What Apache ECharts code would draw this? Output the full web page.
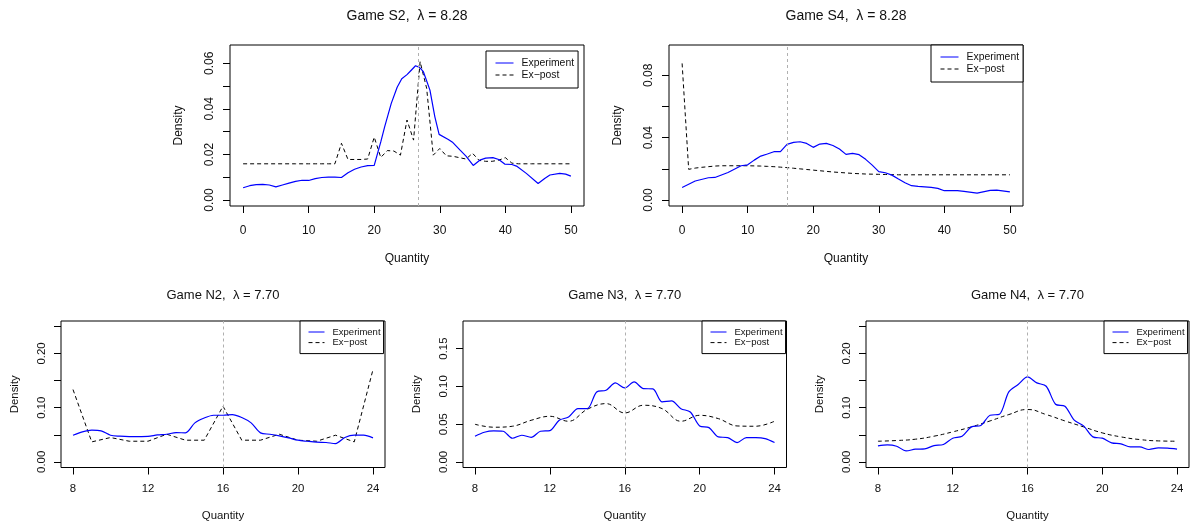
<!DOCTYPE html>
<html>
<head>
<meta charset="utf-8">
<script src="https://cdn.jsdelivr.net/npm/echarts@6/dist/echarts.min.js"></script>
<style>
  html, body { margin: 0; padding: 0; background: #fff; }
  #main { width: 1192px; height: 526px; }
</style>
</head>
<body>
<div id="main"></div>
<script>
// Game S2
var s2ExpQ = [0, 1, 2, 3, 4, 5, 6, 7, 8, 9, 10, 11, 12, 13, 14, 15, 16, 17, 18, 19, 20, 21, 21.6, 22.6, 23.5, 24.2, 25, 25.5, 26.3, 26.9, 27.5, 28.5, 29.25, 29.9, 31.3, 32, 33.1, 34, 35.1, 36.1, 37, 38.1, 39, 39.9, 41, 41.7, 43.2, 45, 46, 46.8, 48.3, 49.2, 50];
var s2ExpD = [0.0054, 0.0063, 0.0068, 0.0069, 0.0066, 0.0058, 0.0066, 0.0074, 0.0082, 0.0087, 0.0086, 0.0094, 0.0099, 0.0101, 0.0101, 0.0099, 0.0120, 0.0135, 0.0145, 0.0151, 0.0152, 0.0255, 0.0322, 0.0424, 0.0495, 0.0532, 0.0550, 0.0565, 0.0589, 0.0582, 0.0563, 0.0482, 0.0365, 0.0288, 0.0266, 0.0252, 0.0219, 0.0193, 0.0152, 0.0175, 0.0184, 0.0186, 0.0178, 0.0158, 0.0156, 0.0149, 0.0117, 0.0073, 0.0095, 0.0110, 0.0117, 0.0114, 0.0105];
var s2PostQ = [0, 1, 2, 3, 4, 5, 6, 7, 8, 9, 10, 11, 12, 13, 14, 15, 16, 17, 18, 19, 20, 21, 22, 23, 24, 25, 26, 27, 28, 29, 30, 31, 32, 33, 34, 35, 36, 37, 38, 39, 40, 41, 42, 43, 44, 45, 46, 47, 48, 49, 50];
var s2PostD = [0.0159, 0.0159, 0.0159, 0.0159, 0.0159, 0.0159, 0.0159, 0.0159, 0.0159, 0.0159, 0.0159, 0.0159, 0.0159, 0.0159, 0.0159, 0.0249, 0.0178, 0.0178, 0.0178, 0.0180, 0.0276, 0.0187, 0.0217, 0.0215, 0.0197, 0.0351, 0.0263, 0.0607, 0.0490, 0.0197, 0.0226, 0.0194, 0.0192, 0.0186, 0.0180, 0.0205, 0.0174, 0.0170, 0.0170, 0.0175, 0.0186, 0.0162, 0.0159, 0.0159, 0.0159, 0.0159, 0.0159, 0.0159, 0.0159, 0.0159, 0.0159];

// Game S4
var s4ExpQ = [0, 2, 4, 5, 7, 9, 10, 11, 12, 13, 14, 15, 16, 17, 18, 19, 20, 21, 22, 23, 24, 25, 26, 27, 28, 29, 30, 31, 32, 33, 34, 35, 36, 37, 38, 39, 40, 42, 43, 45, 47, 48, 50];
var s4ExpD = [0.0081, 0.0122, 0.0143, 0.0145, 0.0177, 0.0220, 0.0226, 0.0256, 0.0282, 0.0295, 0.0310, 0.0310, 0.0357, 0.0370, 0.0374, 0.0363, 0.0338, 0.0359, 0.0363, 0.0350, 0.0327, 0.0293, 0.0299, 0.0291, 0.0261, 0.0224, 0.0182, 0.0175, 0.0160, 0.0135, 0.0111, 0.0092, 0.0088, 0.0085, 0.0081, 0.0075, 0.0060, 0.0060, 0.0056, 0.0045, 0.0062, 0.0064, 0.0053];
var s4PostQ = [0, 1, 2, 3, 4, 5, 6, 7, 8, 9, 10, 11, 12, 13, 14, 15, 16, 17, 18, 19, 20, 21, 22, 23, 24, 25, 26, 27, 28, 29, 30, 31, 32, 33, 34, 35, 40, 45, 50];
var s4PostD = [0.0876, 0.0197, 0.0205, 0.0210, 0.0214, 0.0218, 0.0220, 0.0220, 0.0220, 0.0220, 0.0220, 0.0219, 0.0218, 0.0216, 0.0214, 0.0211, 0.0208, 0.0204, 0.0200, 0.0196, 0.0192, 0.0188, 0.0184, 0.0180, 0.0177, 0.0174, 0.0171, 0.0169, 0.0167, 0.0166, 0.0165, 0.0164, 0.0163, 0.0162, 0.0162, 0.0162, 0.0162, 0.0162, 0.0162];

// Games N2, N3, N4
var nExpQ = [8, 8.5, 9, 9.5, 10, 10.5, 11, 11.5, 12, 12.5, 13, 13.5, 14, 14.5, 15, 15.5, 16, 16.5, 17, 17.5, 18, 18.5, 19, 19.5, 20, 20.5, 21, 21.5, 22, 22.5, 23, 23.5, 24];
var nPostQ = [8, 9, 10, 11, 12, 13, 14, 15, 16, 17, 18, 19, 20, 21, 22, 23, 24];

var n2ExpD = [0.0492, 0.0553, 0.0584, 0.0572, 0.0492, 0.0474, 0.0467, 0.0467, 0.0470, 0.0498, 0.0510, 0.0540, 0.0535, 0.0720, 0.0810, 0.0860, 0.0860, 0.0873, 0.0818, 0.0720, 0.0535, 0.0510, 0.0480, 0.0443, 0.0400, 0.0380, 0.0363, 0.0357, 0.0338, 0.0449, 0.0492, 0.0492, 0.0443];
var n2PostD = [0.1335, 0.0369, 0.0449, 0.0381, 0.0381, 0.0510, 0.0400, 0.0400, 0.1027, 0.0400, 0.0400, 0.0510, 0.0400, 0.0381, 0.0492, 0.0369, 0.1704];

var n3ExpD = [0.0340, 0.0392, 0.0410, 0.0406, 0.0313, 0.0353, 0.0326, 0.0406, 0.0414, 0.0551, 0.0595, 0.0705, 0.0705, 0.0926, 0.0948, 0.1045, 0.0979, 0.1058, 0.0970, 0.0966, 0.0794, 0.0807, 0.0705, 0.0661, 0.0476, 0.0454, 0.0331, 0.0322, 0.0256, 0.0322, 0.0322, 0.0309, 0.0256];
var n3PostD = [0.0498, 0.0459, 0.0472, 0.0551, 0.0604, 0.0538, 0.0697, 0.0772, 0.0648, 0.0750, 0.0705, 0.0538, 0.0617, 0.0573, 0.0476, 0.0472, 0.0538];

var n4ExpD = [0.0295, 0.0314, 0.0289, 0.0203, 0.0234, 0.0240, 0.0301, 0.0320, 0.0437, 0.0474, 0.0646, 0.0670, 0.0861, 0.0879, 0.1292, 0.1427, 0.1568, 0.1458, 0.1396, 0.1064, 0.1027, 0.0769, 0.0664, 0.0461, 0.0437, 0.0351, 0.0332, 0.0277, 0.0277, 0.0228, 0.0258, 0.0252, 0.0234];
var n4PostD = [0.0381, 0.0394, 0.0418, 0.0474, 0.0554, 0.0646, 0.0756, 0.0873, 0.0966, 0.0873, 0.0756, 0.0646, 0.0535, 0.0461, 0.0412, 0.0387, 0.0381];

// vertical reference lines (equilibrium quantity)
var eqLines = [26.7, 16, 16, 16, 16];

// ticks and labels
var sXTicks = [0, 10, 20, 30, 40, 50];
var nXTicks = [8, 12, 16, 20, 24];
var s2YTicks = [0, 0.01, 0.02, 0.03, 0.04, 0.05, 0.06];
var s2YLabels = [0, 0.02, 0.04, 0.06];
var s4YTicks = [0, 0.02, 0.04, 0.06, 0.08];
var s4YLabels = [0, 0.04, 0.08];
var n24YTicks = [0, 0.05, 0.10, 0.15, 0.20, 0.25];
var n24YLabels = [0, 0.10, 0.20];
var n3YTicks = [0, 0.05, 0.10, 0.15];
var n3YLabels = [0, 0.05, 0.10, 0.15];

var titles = ['Game S2,  \u03bb = 8.28', 'Game S4,  \u03bb = 8.28', 'Game N2,  \u03bb = 7.70', 'Game N3,  \u03bb = 7.70', 'Game N4,  \u03bb = 7.70'];
var seriesNames = ['Experiment', 'Ex\u2212post'];

function zip(a, b) {
    var out = [];
    for (var i = 0; i < a.length; i++) out.push([a[i], b[i]]);
    return out;
}

var FONT = '"Liberation Sans", Arial, Helvetica, sans-serif';
var TXT = '#111';

var panels = [
    {box: [230, 45, 354, 161], x: [-2, 52], y: [-0.0026, 0.068], xt: sXTicks, yt: s2YTicks, yl: s2YLabels,
     exp: zip(s2ExpQ, s2ExpD), post: zip(s2PostQ, s2PostD), smoothExp: false, smoothPost: false,
     big: true, legend: [486, 51], titleY: 8},
    {box: [669, 45, 354, 161], x: [-2, 52], y: [-0.0038, 0.0994], xt: sXTicks, yt: s4YTicks, yl: s4YLabels,
     exp: zip(s4ExpQ, s4ExpD), post: zip(s4PostQ, s4PostD), smoothExp: false, smoothPost: false,
     big: true, legend: [931, 45], titleY: 8},
    {box: [61, 321, 324, 146.5], x: [7.36, 24.64], y: [-0.0104, 0.26], xt: nXTicks, yt: n24YTicks, yl: n24YLabels,
     exp: zip(nExpQ, n2ExpD), post: zip(nPostQ, n2PostD), smoothExp: 0.3, smoothPost: false,
     big: false, legend: [300, 321], titleY: 287},
    {box: [463, 321, 323.5, 146.5], x: [7.36, 24.64], y: [-0.0074, 0.1865], xt: nXTicks, yt: n3YTicks, yl: n3YLabels,
     exp: zip(nExpQ, n3ExpD), post: zip(nPostQ, n3PostD), smoothExp: 0.3, smoothPost: 0.4,
     big: false, legend: [702, 321], titleY: 287},
    {box: [866, 321, 323, 146.5], x: [7.36, 24.64], y: [-0.0104, 0.26], xt: nXTicks, yt: n24YTicks, yl: n24YLabels,
     exp: zip(nExpQ, n4ExpD), post: zip(nPostQ, n4PostD), smoothExp: 0.3, smoothPost: 0.5,
     big: false, legend: [1104, 321], titleY: 287}
];

var option = {
    animation: false,
    backgroundColor: '#fff',
    textStyle: {fontFamily: FONT},
    title: [], legend: [], grid: [], xAxis: [], yAxis: [], series: []
};

panels.forEach(function (p, i) {
    var fs = p.big ? 12 : 11.4;
    var lfs = p.big ? 10.4 : 9.5;
    var b = p.box;
    option.title.push({
        text: titles[i],
        left: b[0] + b[2] / 2,
        top: p.titleY,
        textAlign: 'center',
        padding: 0,
        textStyle: {fontFamily: FONT, fontSize: p.big ? 14 : 13, fontWeight: 'normal', color: TXT, lineHeight: 16}
    });
    option.legend.push({
        data: seriesNames,
        orient: 'vertical',
        left: p.legend[0],
        top: p.legend[1],
        itemWidth: p.big ? 18 : 16,
        itemHeight: 10,
        itemGap: p.big ? 2 : 0.6,
        padding: p.big ? [7, 4, 8, 9] : [6, 3, 6, 8],
        borderColor: '#000',
        borderWidth: 1,
        backgroundColor: '#fff',
        selectedMode: false,
        itemStyle: {color: 'transparent', borderColor: 'transparent', borderWidth: 0, opacity: 0},
        lineStyle: {width: 1},
        textStyle: {fontFamily: FONT, fontSize: lfs, color: TXT, padding: [0, 0, 0, 3]}
    });
    option.grid.push({
        left: b[0], top: b[1], width: b[2], height: b[3],
        show: true, borderColor: '#000', borderWidth: 1, backgroundColor: 'transparent'
    });
    option.xAxis.push({
        type: 'value', gridIndex: i, min: p.x[0], max: p.x[1],
        name: 'Quantity', nameLocation: 'middle', nameGap: p.big ? 47 : 43,
        nameTextStyle: {fontFamily: FONT, fontSize: fs, color: TXT},
        axisLine: {show: false, onZero: false},
        axisTick: {show: true, length: 7, customValues: p.xt, lineStyle: {color: '#000'}},
        axisLabel: {customValues: p.xt, margin: p.big ? 19 : 16, fontFamily: FONT, fontSize: fs, color: TXT},
        splitLine: {show: false}
    });
    option.yAxis.push({
        type: 'value', gridIndex: i, min: p.y[0], max: p.y[1],
        name: 'Density', nameLocation: 'middle', nameRotate: 90, nameGap: p.big ? 45 : 41,
        nameTextStyle: {fontFamily: FONT, fontSize: fs, color: TXT},
        axisLine: {show: false, onZero: false},
        axisTick: {show: true, length: 7, customValues: p.yt, lineStyle: {color: '#000'}},
        axisLabel: {customValues: p.yl, rotate: 90, margin: 14, fontFamily: FONT, fontSize: fs, color: TXT,
                    formatter: function (v) { return v.toFixed(2); }},
        splitLine: {show: false}
    });
    option.series.push({
        name: seriesNames[0], type: 'line', xAxisIndex: i, yAxisIndex: i,
        data: p.exp, symbol: 'none', showSymbol: false, smooth: p.smoothExp,
        lineStyle: {color: '#0000ff', width: 1.2},
        itemStyle: {color: '#0000ff'},
        markLine: {
            silent: true, symbol: ['none', 'none'], label: {show: false},
            lineStyle: {color: '#b0b0b0', type: [3, 3], width: 1},
            data: [{xAxis: eqLines[i]}]
        },
        z: 3
    });
    option.series.push({
        name: seriesNames[1], type: 'line', xAxisIndex: i, yAxisIndex: i,
        data: p.post, symbol: 'none', showSymbol: false, smooth: p.smoothPost,
        lineStyle: {color: '#000', width: 1, type: [4, 3]},
        itemStyle: {color: '#000'},
        z: 2
    });
});

var myChart = echarts.init(document.getElementById('main'));
myChart.setOption(option);
</script>
</body>
</html>
